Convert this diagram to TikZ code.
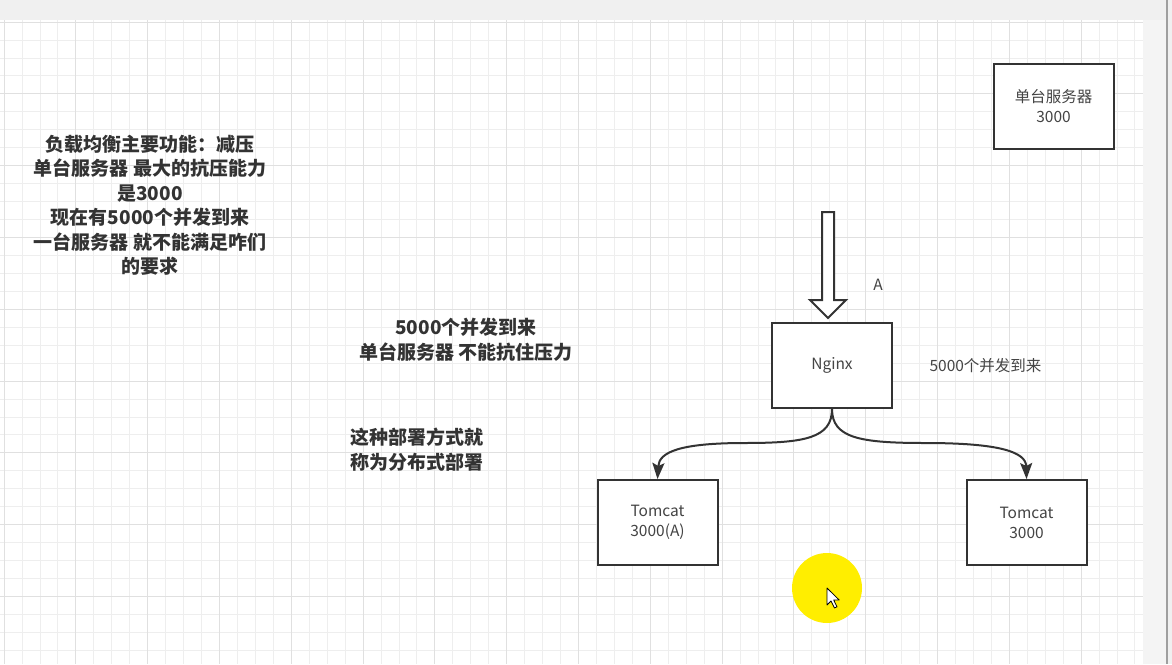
\documentclass[tikz,border=0pt]{standalone}
\usepackage{fontspec}
\setmainfont{Noto Sans CJK SC}
\usetikzlibrary{arrows.meta}
\definecolor{pagegray}{HTML}{F0F0F0}
\definecolor{sidegray}{HTML}{F4F4F4}
\definecolor{gridminor}{HTML}{EEEEEE}
\definecolor{gridmajor}{HTML}{E0E0E0}
\definecolor{edgegray}{HTML}{333333}
\definecolor{boxtext}{HTML}{444444}
\definecolor{notetext}{HTML}{333333}
\definecolor{marker}{HTML}{FFEE00}

\begin{document}
\begin{tikzpicture}[x=1pt, y=-1pt, >={Stealth[length=16pt,width=12pt,inset=3pt]},
  box/.style={draw=edgegray, line width=2pt, fill=white, minimum width=120pt,
    minimum height=85pt, align=center, text=boxtext, font=\fontsize{15.5}{20}\selectfont},
  plain/.style={text=boxtext, font=\fontsize{15.5}{20}\selectfont},
  note/.style={align=center, text=notetext, font=\bfseries\fontsize{19}{24.5}\selectfont},
  flow/.style={->, draw=edgegray, line width=2pt}]
  \useasboundingbox (0,0) rectangle (1172,664);
  % page and canvas
  \fill[pagegray] (0,0) rectangle (1172,664);
  \fill[sidegray] (1143,20) rectangle (1166,664);
  \fill[gray!75] (1166,0) rectangle (1168,664);
  \fill[white] (0,20) rectangle (1143,664);
  % grid
  \foreach \i in {0,...,63}
    \draw[gridminor, line width=0.8pt] ({4+17.95*\i},20) -- ({4+17.95*\i},664);
  \foreach \j in {0,...,35}
    \draw[gridminor, line width=0.8pt] (0,{22+17.95*\j}) -- (1143,{22+17.95*\j});
  \foreach \i in {0,4,...,60}
    \draw[gridmajor, line width=0.8pt] ({4+17.95*\i},20) -- ({4+17.95*\i},664);
  \foreach \j in {0,4,...,32}
    \draw[gridmajor, line width=0.8pt] (0,{22+17.95*\j}) -- (1143,{22+17.95*\j});

  % notes
  \node[note] (goal) at (150,205.5) {负载均衡主要功能：减压\\单台服务器 最大的抗压能力\\是3000\\现在有5000个并发到来\\一台服务器 就不能满足咋们\\的要求};
  \node[note] (load) at (466,340) {5000个并发到来\\单台服务器 不能抗住压力};
  \node[note, align=left, anchor=west] (mode) at (347,449.5) {这种部署方式就\\称为分布式部署};

  % boxes
  \node[box] (server) at (1053.5,106.5) {单台服务器\\3000};
  \node[box] (nginx) at (832,365.5) {Nginx};
  \node[box] (tomcatA) at (657.5,522.5) {Tomcat\\3000(A)};
  \node[box] (tomcatB) at (1026.5,522.5) {Tomcat\\3000};
  \node[plain] (labelA) at (878,285) {A};
  \node[plain] (count) at (985.5,366) {5000个并发到来};

  % incoming requests
  \draw[edgegray, fill=white, line width=2pt, line join=miter]
    (822,212) -- (834,212) -- (834,300) -- (846,300) -- (828,318)
    -- (810,300) -- (822,300) -- cycle;

  % split to the two tomcats
  \draw[flow] (nginx.south) .. controls (832,438) and (805,443) .. (745,443)
    .. controls (680,443) and (659,452) .. (tomcatA.north);
  \draw[flow] (nginx.south) .. controls (832,438) and (860,443) .. (925,443)
    .. controls (1000,443) and (1026,452) .. (tomcatB.north);

  % pointer highlight
  \fill[marker] (827,588) circle (35);
  \draw[fill=white, line width=0.8pt, line join=round] (827,588) -- ++(0,17)
    -- ++(4,-4) -- ++(3.5,7) -- ++(2.5,-1.2) -- ++(-3.3,-6.8) -- ++(5.5,0) -- cycle;
\end{tikzpicture}
\end{document}
